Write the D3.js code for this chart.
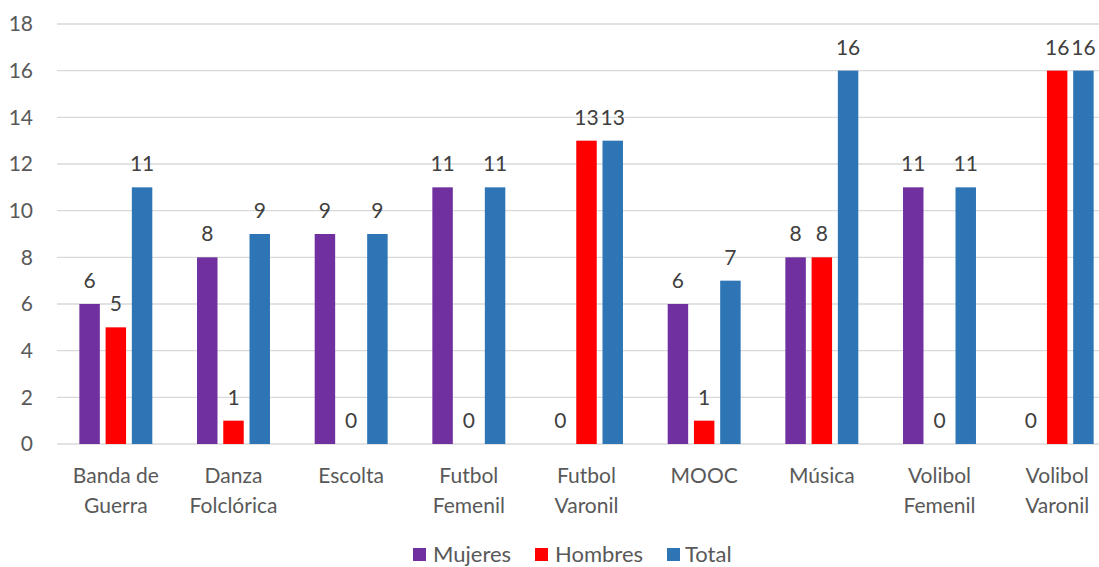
<html>
<head>
  <meta charset="utf-8">
  <script src='https://d3js.org/d3.v7.min.js'></script>
  <style>
    body { margin: 0; background: #fff; }
    text { font-family: Lato, 'Open Sans', sans-serif; }
  </style>
</head>
<body>
<script>

var categorias = [['Banda de', 'Guerra'], ['Danza', 'Folclórica'], ['Escolta'], ['Futbol', 'Femenil'],
  ['Futbol', 'Varonil'], ['MOOC'], ['Música'], ['Volibol', 'Femenil'], ['Volibol', 'Varonil']];
var series = ['Mujeres', 'Hombres', 'Total'];
var mujeres = [6, 8, 9, 11, 0, 6, 8, 11, 0];
var hombres = [5, 1, 0, 0, 13, 1, 8, 0, 16];
var total = [11, 9, 9, 11, 13, 7, 16, 11, 16];
var ticks = [0, 2, 4, 6, 8, 10, 12, 14, 16, 18];
var colores = ['#7030A0', '#FF0000', '#2E75B6'];

var width = 1099, height = 567;
var plotLeft = 57, plotRight = 1116, plotTop = 24, plotBottom = 444;

var svg = d3.select('body').append('svg')
  .attr('width', width)
  .attr('height', height);

var x = d3.scaleBand()
  .domain(d3.range(categorias.length))
  .range([plotLeft, plotRight])
  .paddingInner(0.38)
  .paddingOuter(0.19);

var x1 = d3.scaleBand()
  .domain(series)
  .range([0, x.bandwidth()])
  .paddingInner(0.22);

var y = d3.scaleLinear()
  .domain([0, 18])
  .range([plotBottom, plotTop]);

// gridlines
svg.append('g')
  .selectAll('line')
  .data(ticks)
  .enter()
  .append('line')
  .attr('x1', plotLeft)
  .attr('x2', plotRight)
  .attr('y1', function(d){ return y(d); })
  .attr('y2', function(d){ return y(d); })
  .attr('stroke', '#d9d9d9')
  .attr('stroke-width', 1.3);

// y axis labels
var yAxis = d3.axisLeft(y).tickValues(ticks).tickSize(0).tickPadding(0);
var gy = svg.append('g')
  .attr('transform', 'translate(33,0)')
  .call(yAxis);
gy.select('.domain').remove();
gy.selectAll('text')
  .attr('fill', '#595959')
  .style('font-size', '21px')
  .style('font-family', 'Lato, sans-serif');

var datos = [mujeres, hombres, total];

var grupos = svg.append('g')
  .selectAll('g')
  .data(series)
  .enter()
  .append('g');

grupos.each(function(s, si){
  var g = d3.select(this);
  var vals = datos[si];
  g.selectAll('rect')
    .data(vals)
    .enter()
    .append('rect')
    .attr('x', function(d, i){ return x(i) + x1(s); })
    .attr('y', function(d){ return y(d); })
    .attr('width', x1.bandwidth())
    .attr('height', function(d){ return plotBottom - y(d); })
    .attr('fill', colores[si]);
  g.selectAll('text')
    .data(vals)
    .enter()
    .append('text')
    .attr('x', function(d, i){ return x(i) + x1(s) + x1.bandwidth() / 2; })
    .attr('y', function(d){ return y(d) - 16; })
    .attr('text-anchor', 'middle')
    .attr('fill', '#404040')
    .style('font-size', '21px')
    .text(function(d){ return d; });
});

// category labels
var cat = svg.append('g')
  .selectAll('text')
  .data(categorias)
  .enter()
  .append('text')
  .attr('x', function(d, i){ return x(i) + x.bandwidth() / 2; })
  .attr('y', 483)
  .attr('text-anchor', 'middle')
  .attr('fill', '#595959')
  .style('font-size', '21px');
cat.selectAll('tspan')
  .data(function(d){ return d; })
  .enter()
  .append('tspan')
  .attr('x', function(){ return d3.select(this.parentNode).attr('x'); })
  .attr('dy', function(d, i){ return i === 0 ? 0 : 30; })
  .text(function(d){ return d; });

// legend
var leg = [[413, 433], [535, 555], [667, 685]];
var lg = svg.append('g')
  .selectAll('g')
  .data(series)
  .enter()
  .append('g');
lg.append('rect')
  .attr('x', function(d, i){ return leg[i][0]; })
  .attr('y', 548)
  .attr('width', 13)
  .attr('height', 13)
  .attr('fill', function(d, i){ return colores[i]; });
lg.append('text')
  .attr('x', function(d, i){ return leg[i][1]; })
  .attr('y', 562)
  .attr('fill', '#595959')
  .style('font-size', '22px')
  .text(function(d){ return d; });

</script>
</body>
</html>
